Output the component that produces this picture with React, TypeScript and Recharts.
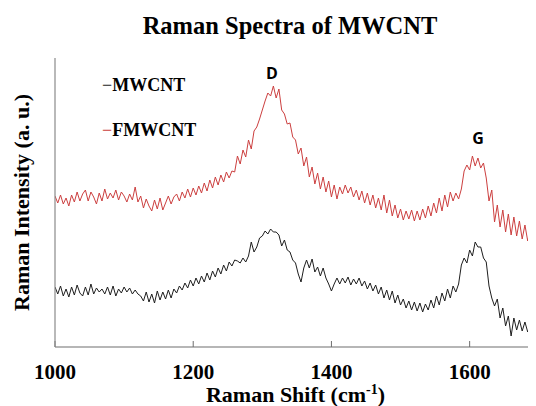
import React from 'react';
import { LineChart, Line, XAxis, YAxis, ReferenceDot, Label } from 'recharts';

// Raman shift grid (cm-1): 1000 .. 1696, step 4
const shiftStart = 1000;
const shiftStep = 4;

const mwcnt = [
  60, 53, 61, 51, 58, 50, 60, 52, 62, 54, 51, 60, 52, 63, 53, 59, 55, 58, 53, 60,
  52, 61, 51, 58, 54, 60, 55, 59, 53, 57, 53, 51, 46, 55, 45, 53, 44, 56, 47, 55,
  48, 57, 49, 58, 54, 61, 57, 64, 59, 67, 61, 69, 63, 71, 65, 74, 67, 76, 70, 79,
  73, 82, 76, 85, 81, 87, 86, 84, 89, 85, 91, 105, 95, 100, 109, 111, 116, 113, 118, 115,
  115, 112, 101, 107, 97, 95, 87, 84, 73, 65, 79, 87, 79, 88, 75, 80, 71, 79, 69, 63,
  56, 63, 69, 63, 69, 64, 70, 62, 68, 63, 69, 61, 66, 58, 64, 56, 62, 53, 60, 49,
  57, 47, 56, 44, 52, 42, 48, 39, 46, 37, 45, 36, 44, 35, 43, 37, 47, 39, 51, 42,
  54, 46, 58, 49, 61, 55, 63, 82, 89, 84, 97, 91, 105, 100, 100, 89, 85, 61, 49, 41,
  48, 29, 39, 21, 31, 11, 29, 17, 27, 16, 25, 15, 23, 17, 21,
];

const fmwcnt = [
  151, 144, 152, 143, 149, 141, 152, 145, 155, 146, 153, 157, 146, 155, 150, 143, 154, 146, 158, 148,
  154, 149, 157, 147, 155, 151, 145, 153, 147, 160, 145, 151, 139, 148, 141, 136, 147, 138, 149, 137,
  144, 151, 143, 150, 153, 146, 155, 149, 158, 150, 159, 152, 161, 154, 164, 156, 167, 159, 170, 162,
  172, 165, 175, 169, 176, 175, 191, 183, 197, 190, 207, 198, 216, 220, 228, 237, 246, 254, 251, 261,
  249, 258, 237, 233, 223, 224, 210, 207, 193, 199, 181, 190, 170, 180, 163, 174, 158, 170, 155, 166,
  150, 162, 148, 160, 153, 162, 154, 160, 150, 157, 147, 156, 144, 154, 142, 152, 139, 149, 137, 152,
  134, 147, 131, 142, 129, 138, 127, 136, 128, 137, 126, 136, 127, 138, 129, 141, 131, 144, 134, 149,
  136, 152, 140, 155, 146, 154, 148, 158, 176, 182, 177, 191, 181, 189, 179, 184, 169, 146, 157, 125,
  142, 120, 137, 115, 133, 112, 130, 111, 126, 108, 122, 106, 118, 104, 112,
];

const xTicks = [1000, 1200, 1400, 1600];
const xDomain = [1000, 1696];
const yDomain = [0, 289];

const peakNames = ['D', 'G'];
const peakShifts = [1314, 1612];
const peakHeights = [261, 191];
const peakOffsets = [7, 12];

const seriesNames = ['MWCNT', 'FMWCNT'];
const seriesColors = ['#1e1e1e', '#cc3f3f'];

const data = mwcnt.map((v, i) => ({
  shift: shiftStart + i * shiftStep,
  MWCNT: v,
  FMWCNT: fmwcnt[i],
}));

const serif = '"Liberation Serif", "Times New Roman", serif';
const sans = '"Open Sans", "Liberation Sans", Arial, sans-serif';

const XTitle = (props: any) => {
  const vb = props.viewBox;
  return (
    <text
      x={vb.x + vb.width / 2}
      y={vb.y + 55}
      textAnchor="middle"
      fontFamily={serif}
      fontWeight="bold"
      fontSize={22}
      fill="#000"
    >
      Raman Shift (cm
      <tspan fontSize={14} dy={-8}>-1</tspan>
      <tspan dy={8}>)</tspan>
    </text>
  );
};

const YTitle = (props: any) => {
  const vb = props.viewBox;
  const cx = vb.x + 13;
  const cy = vb.y + vb.height / 2;
  return (
    <text
      x={cx}
      y={cy}
      transform={`rotate(-90, ${cx}, ${cy})`}
      textAnchor="middle"
      dominantBaseline="central"
      fontFamily={serif}
      fontWeight="bold"
      fontSize={22}
      fill="#000"
    >
      Raman Intensity (a. u.)
    </text>
  );
};

export default function App() {
  return (
    <div style={{ position: 'relative', width: 528, height: 398 }}>
      <div
        style={{
          position: 'absolute',
          left: 36,
          width: 492,
          top: 5,
          textAlign: 'center',
          fontFamily: serif,
          fontWeight: 'bold',
          fontSize: 24.5,
          lineHeight: '26px',
          color: '#000',
          zIndex: 2,
        }}
      >
        Raman Spectra of MWCNT
      </div>
      <div
        style={{
          position: 'absolute',
          left: 94,
          top: 67,
          fontFamily: serif,
          fontWeight: 'bold',
          fontSize: 18,
          zIndex: 2,
        }}
      >
        {seriesNames.map((n, i) => (
          <div key={n} style={{ height: 20, lineHeight: '20px', marginBottom: 25, whiteSpace: 'nowrap' }}>
            <span style={{ color: seriesColors[i], fontWeight: 'normal' }}>−</span>
            <span style={{ color: '#000' }}>{n}</span>
          </div>
        ))}
      </div>
      <LineChart width={528} height={398} data={data} margin={{ top: 50, right: 0, left: 0, bottom: 0 }}>
        <XAxis
          dataKey="shift"
          type="number"
          domain={xDomain}
          ticks={xTicks}
          height={59}
          tickSize={-6}
          tickMargin={23}
          axisLine={{ stroke: '#6e6e6e', strokeWidth: 1.2 }}
          tickLine={{ stroke: '#6e6e6e' }}
          tick={{ fill: '#000', fontFamily: serif, fontWeight: 'bold', fontSize: 21 }}
          allowDataOverflow
        >
          <Label content={<XTitle />} />
        </XAxis>
        <XAxis
          xAxisId="top"
          orientation="top"
          type="number"
          domain={xDomain}
          height={0}
          tick={false}
          tickLine={false}
          axisLine={{ stroke: '#8a8a8a', strokeWidth: 1.2 }}
        />
        <YAxis
          type="number"
          domain={yDomain}
          width={47}
          tick={false}
          tickLine={false}
          axisLine={{ stroke: '#8a8a8a', strokeWidth: 1.2 }}
          allowDataOverflow
        >
          <Label content={<YTitle />} />
        </YAxis>
        <Line
          type="linear"
          dataKey="FMWCNT"
          stroke={seriesColors[1]}
          strokeWidth={1}
          dot={false}
          isAnimationActive={false}
        />
        <Line
          type="linear"
          dataKey="MWCNT"
          stroke={seriesColors[0]}
          strokeWidth={1}
          dot={false}
          isAnimationActive={false}
        />
        {peakNames.map((n, i) => (
          <ReferenceDot
            key={n}
            x={peakShifts[i]}
            y={peakHeights[i]}
            r={0}
            fill="none"
            stroke="none"
            label={{
              value: n,
              position: 'top',
              offset: peakOffsets[i],
              fill: '#000',
              fontFamily: sans,
              fontWeight: 'bold',
              fontSize: 16,
            }}
          />
        ))}
      </LineChart>
    </div>
  );
}
